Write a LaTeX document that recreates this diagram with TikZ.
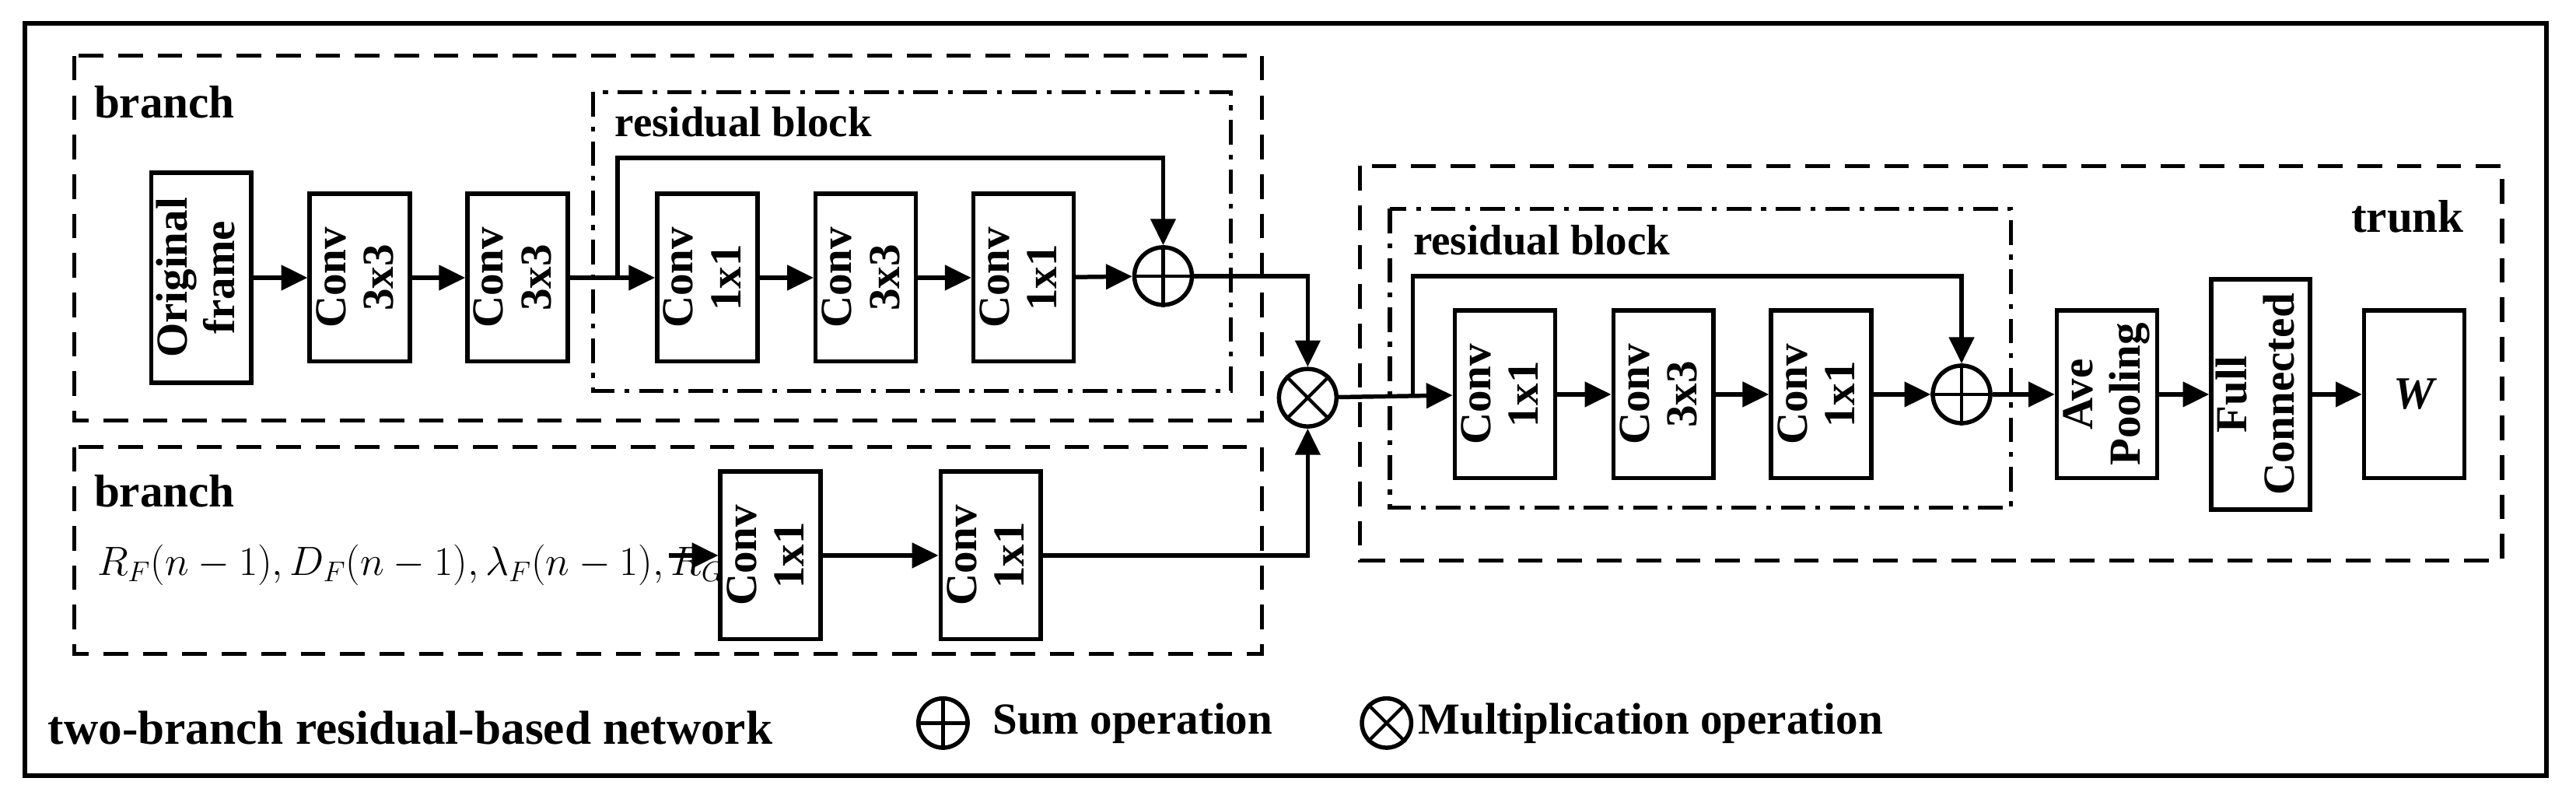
\documentclass[tikz,border=0pt]{standalone}
\usepackage{fontspec}
\setmainfont{Liberation Serif}
\usetikzlibrary{arrows.meta}
\begin{document}
\begin{tikzpicture}[x=1pt,y=-1pt,line width=2.6pt,
  blk/.style={draw,minimum width=#1,inner sep=0pt,font=\fontsize{27}{29}\selectfont\bfseries,align=center},
  conv/.style={blk=61pt,minimum height=102pt},
  dbox/.style={line width=2.4pt,dash pattern=on 15pt off 9pt},
  ddbox/.style={line width=2.4pt,dash pattern=on 15pt off 6pt on 3pt off 6pt},
  lab/.style={font=\fontsize{28}{30}\selectfont\bfseries,anchor=west,inner sep=0pt},
  op/.style={draw,circle,minimum size=35pt,inner sep=0pt},
  ar/.style={-{Triangle[length=16pt,width=15pt]}}]
\useasboundingbox (0,0) rectangle (1568,486);
\draw[line width=2.8pt] (15,14) rectangle (1550,472);
% branch 1
\draw[dbox] (45,34) rectangle (768,256);
\node[lab] at (56,62) {branch};
\draw[ddbox] (361,56) rectangle (749,238);
\node[lab,font=\fontsize{26}{28}\selectfont\bfseries] at (373,74) {residual block};
\node[blk=61pt,minimum height=128pt] (of) at (122.5,169) {\rotatebox{90}{\begin{tabular}{@{}c@{}}Original\\frame\end{tabular}}};
\node[conv] (c1) at (219,169) {\rotatebox{90}{\begin{tabular}{@{}c@{}}Conv\\3x3\end{tabular}}};
\node[conv] (c2) at (315,169) {\rotatebox{90}{\begin{tabular}{@{}c@{}}Conv\\3x3\end{tabular}}};
\node[conv] (c3) at (430.5,169) {\rotatebox{90}{\begin{tabular}{@{}c@{}}Conv\\1x1\end{tabular}}};
\node[conv] (c4) at (527,169) {\rotatebox{90}{\begin{tabular}{@{}c@{}}Conv\\3x3\end{tabular}}};
\node[conv] (c5) at (623,169) {\rotatebox{90}{\begin{tabular}{@{}c@{}}Conv\\1x1\end{tabular}}};
\node[op] (s1) at (708,168) {};
\draw[line width=2pt] (s1.north)--(s1.south) (s1.west)--(s1.east);
\draw[ar] (of)--(c1); \draw[ar] (c1)--(c2); \draw[ar] (c2)--(c3);
\draw[ar] (c3)--(c4); \draw[ar] (c4)--(c5); \draw[ar] (c5)--(s1);
\coordinate (k1) at (376,168);
\draw[ar] (k1)--(376,96)-|(s1.north);
% mult
\node[op] (m) at (796,242) {};
\draw[line width=2pt] (m.north west)--(m.south east) (m.north east)--(m.south west);
\draw[ar] (s1.east)-|(m.north);
% branch 2
\draw[dbox] (45,272) rectangle (768,398);
\node[lab] at (56,299) {branch};
\node[anchor=west,inner sep=0pt,font=\fontsize{23.5}{25}\selectfont] (in) at (58,344) {$R_F(n-1), D_F(n-1), \lambda_F(n-1), R_G$};
\node[conv] (d1) at (469,338) {\rotatebox{90}{\begin{tabular}{@{}c@{}}Conv\\1x1\end{tabular}}};
\node[conv] (d2) at (603,338) {\rotatebox{90}{\begin{tabular}{@{}c@{}}Conv\\1x1\end{tabular}}};
\coordinate (k3) at (407,338);
\draw[ar] (k3)--(d1.west);
\draw[ar] (d1)--(d2);
\draw[ar] (d2.east)-|(m.south);
% trunk
\draw[dbox] (828,101) rectangle (1523,341);
\node[lab,anchor=east] at (1501,132) {trunk};
\draw[ddbox] (846,127) rectangle (1224,309);
\node[lab,font=\fontsize{26}{28}\selectfont\bfseries] at (859,146) {residual block};
\node[conv] (t1) at (916,240) {\rotatebox{90}{\begin{tabular}{@{}c@{}}Conv\\1x1\end{tabular}}};
\node[conv] (t2) at (1012.5,240) {\rotatebox{90}{\begin{tabular}{@{}c@{}}Conv\\3x3\end{tabular}}};
\node[conv] (t3) at (1108.5,240) {\rotatebox{90}{\begin{tabular}{@{}c@{}}Conv\\1x1\end{tabular}}};
\node[op] (s2) at (1194,240) {};
\draw[line width=2pt] (s2.north)--(s2.south) (s2.west)--(s2.east);
\node[conv] (ap) at (1282.5,240) {\rotatebox{90}{\begin{tabular}{@{}c@{}}Ave\\Pooling\end{tabular}}};
\node[blk=60pt,minimum height=140pt] (fc) at (1376,240) {\rotatebox{90}{\begin{tabular}{@{}c@{}}Full\\Connected\end{tabular}}};
\node[conv,font=\fontsize{28}{30}\selectfont\bfseries\itshape] (w) at (1469.5,240) {W};
\draw[ar] (m)--(t1); \draw[ar] (t1)--(t2); \draw[ar] (t2)--(t3);
\draw[ar] (t3)--(s2); \draw[ar] (s2)--(ap); \draw[ar] (ap)--(fc); \draw[ar] (fc)--(w);
\coordinate (k2) at (860,240);
\draw[ar] (k2)--(860,168)-|(s2.north);
% legend
\node[lab,font=\fontsize{29}{31}\selectfont\bfseries] at (28,443) {two-branch residual-based network};
\node[op,minimum size=30pt] (ls) at (574,440) {};
\draw[line width=2pt] (ls.north)--(ls.south) (ls.west)--(ls.east);
\node[lab,font=\fontsize{27}{29}\selectfont\bfseries] at (603,440) {Sum operation};
\node[op,minimum size=30pt] (lm) at (844,440) {};
\draw[line width=2pt] (lm.north west)--(lm.south east) (lm.north east)--(lm.south west);
\node[lab,font=\fontsize{27}{29}\selectfont\bfseries] at (862,440) {Multiplication operation};
\end{tikzpicture}
\end{document}
